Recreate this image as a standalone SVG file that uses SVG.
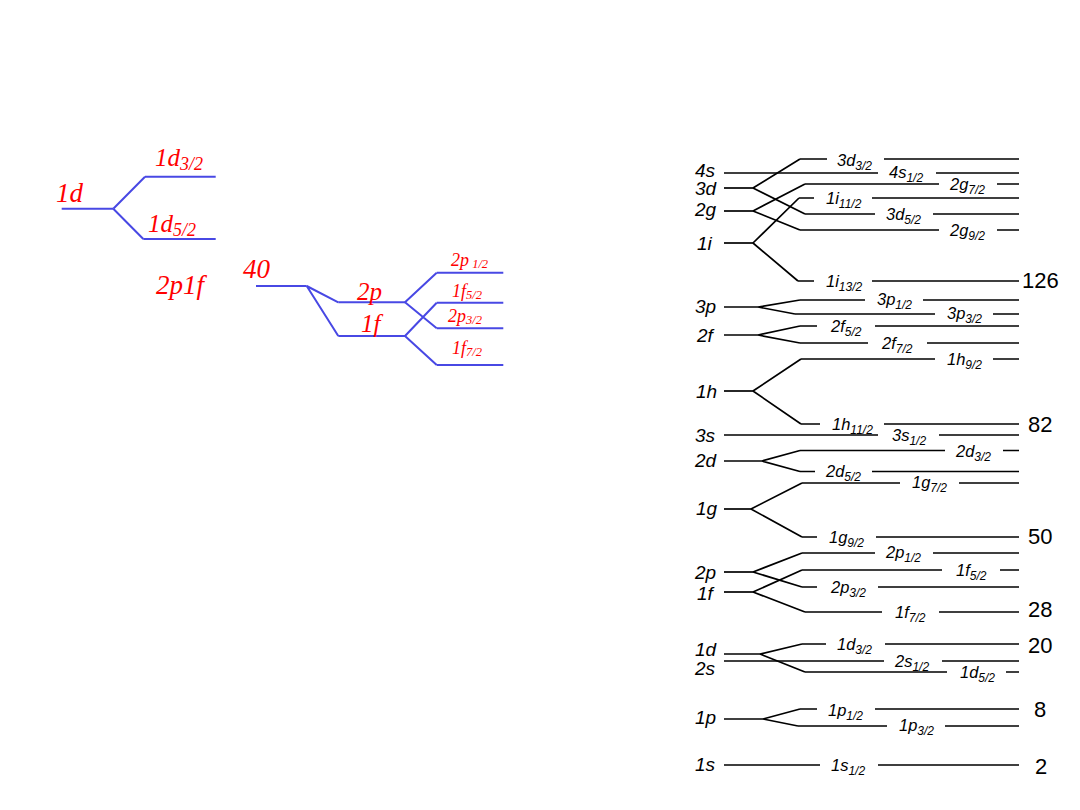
<svg xmlns="http://www.w3.org/2000/svg" width="1080" height="810" viewBox="0 0 1080 810">
<style>
.k{stroke:#000;stroke-width:1.7;fill:none}
.b{stroke:#4848e4;stroke-width:2;fill:none}
.sh{font-family:"Liberation Sans",Arial,sans-serif;font-style:italic;font-size:19px;fill:#000}
.lb{font-family:"Liberation Sans",Arial,sans-serif;font-style:italic;font-size:16.5px;fill:#000}
.sb{font-size:12px}
.n{font-family:"Liberation Sans",Arial,sans-serif;font-size:22px;fill:#000}
.r{font-family:"Liberation Serif","Times New Roman",serif;font-style:italic;fill:#ff0000}
.rb{font-size:27px}
.rm{font-size:25px}
.rs{font-size:18px}
.rsub{font-size:12.5px}
.rsub2{font-size:18px}
</style>
<rect width="1080" height="810" fill="#fff"/>

<!-- Left: red/blue example -->
<g id="red-1d">
<path class="b" d="M61.7 208.7H113.3"/>
<text class="r rb" x="56" y="202">1d</text>
</g>
<g id="red-1d32">
<path class="b" d="M145 176.7H215.7"/>
<text class="r rm" x="155" y="165.5">1d<tspan class="rsub2" dy="4">3/2</tspan></text>
</g>
<g id="red-1d52">
<path class="b" d="M143.3 239H215.7"/>
<text class="r rm" x="148" y="232">1d<tspan class="rsub2" dy="4">5/2</tspan></text>
</g>
<g id="red-2p1f">
<text class="r rb" x="156" y="294">2p1f</text>
</g>
<g id="red-40">
<path class="b" d="M256 286H306.7"/>
<text class="r rb" x="243" y="278">40</text>
</g>
<g id="red-2p">
<path class="b" d="M338.3 302.3H405"/>
<text class="r rm" x="357" y="300">2p</text>
</g>
<g id="red-1f">
<path class="b" d="M338.3 336H405"/>
<text class="r rm" x="361" y="332">1f</text>
</g>
<g id="red-2p12">
<path class="b" d="M436.7 272.7H503.3"/>
<text class="r rs" x="451" y="266">2p<tspan class="rsub" dy="2"> 1/2</tspan></text>
</g>
<g id="red-1f52">
<path class="b" d="M436.7 302.7H503.3"/>
<text class="r rs" x="452" y="297">1f<tspan class="rsub" dy="2">5/2</tspan></text>
</g>
<g id="red-2p32">
<path class="b" d="M436.7 328.3H503.3"/>
<text class="r rs" x="448" y="322">2p<tspan class="rsub" dy="2">3/2</tspan></text>
</g>
<g id="red-1f72">
<path class="b" d="M436.7 365H503.3"/>
<text class="r rs" x="452" y="354">1f<tspan class="rsub" dy="2">7/2</tspan></text>
</g>

<!-- Right: shell model levels -->
<g id="s-4s"><path class="k" d="M724 173H878M936 173H1019"/><text class="sh" x="695" y="177">4s</text><text class="lb" x="889" y="178">4s<tspan class="sb" dy="3.5">1/2</tspan></text></g>
<g id="s-3d"><path class="k" d="M724 188H753"/><text class="sh" x="695" y="195">3d</text></g>
<g id="s-2g"><path class="k" d="M724 211H753"/><text class="sh" x="695" y="216">2g</text></g>
<g id="s-1i"><path class="k" d="M724 243H753"/><text class="sh" x="697" y="250">1i</text></g>
<g id="s-3d32"><path class="k" d="M800 159H827M884 159H1019"/><text class="lb" x="837" y="166">3d<tspan class="sb" dy="3.5">3/2</tspan></text></g>
<g id="s-2g72"><path class="k" d="M805 184H939M997 184H1019"/><text class="lb" x="950" y="190">2g<tspan class="sb" dy="3.5">7/2</tspan></text></g>
<g id="s-1i112"><path class="k" d="M799 198H814M872 198H1019"/><text class="lb" x="826" y="204">1i<tspan class="sb" dy="3.5">11/2</tspan></text></g>
<g id="s-3d52"><path class="k" d="M805 214H875M933 214H1019"/><text class="lb" x="886" y="220">3d<tspan class="sb" dy="3.5">5/2</tspan></text></g>
<g id="s-2g92"><path class="k" d="M800 230H939M997 230H1019"/><text class="lb" x="950" y="236">2g<tspan class="sb" dy="3.5">9/2</tspan></text></g>
<g id="s-1i132"><path class="k" d="M798 281H814M872 281H1019"/><text class="lb" x="826" y="287">1i<tspan class="sb" dy="3.5">13/2</tspan></text><text class="n" x="1022" y="288">126</text></g>

<g id="s-3p"><path class="k" d="M724 307H758"/><text class="sh" x="695" y="313">3p</text></g>
<g id="s-3p12"><path class="k" d="M800 300H865M923 300H1019"/><text class="lb" x="877" y="305">3p<tspan class="sb" dy="3.5">1/2</tspan></text></g>
<g id="s-3p32"><path class="k" d="M795 314H935M993 314H1019"/><text class="lb" x="947" y="319">3p<tspan class="sb" dy="3.5">3/2</tspan></text></g>
<g id="s-2f"><path class="k" d="M724 335H758"/><text class="sh" x="697" y="342">2f</text></g>
<g id="s-2f52"><path class="k" d="M800 326H817M875 326H1019"/><text class="lb" x="831" y="332">2f<tspan class="sb" dy="3.5">5/2</tspan></text></g>
<g id="s-2f72"><path class="k" d="M800 343H868M927 343H1019"/><text class="lb" x="882" y="349">2f<tspan class="sb" dy="3.5">7/2</tspan></text></g>
<g id="s-1h"><path class="k" d="M724 391H753"/><text class="sh" x="696" y="398">1h</text></g>
<g id="s-1h92"><path class="k" d="M801 359H935M993 359H1019"/><text class="lb" x="947" y="365">1h<tspan class="sb" dy="3.5">9/2</tspan></text></g>
<g id="s-1h112"><path class="k" d="M801 424H820M884 424H1019"/><text class="lb" x="832" y="430">1h<tspan class="sb" dy="3.5">11/2</tspan></text><text class="n" x="1028" y="432">82</text></g>
<g id="s-3s"><path class="k" d="M724 435H878M939 435H1019"/><text class="sh" x="695" y="442">3s</text><text class="lb" x="892" y="441">3s<tspan class="sb" dy="3.5">1/2</tspan></text></g>

<g id="s-2d"><path class="k" d="M724 461H762"/><text class="sh" x="695" y="467">2d</text></g>
<g id="s-2d32"><path class="k" d="M800 450.5H945M1003 450.5H1019"/><text class="lb" x="956" y="457">2d<tspan class="sb" dy="3.5">3/2</tspan></text></g>
<g id="s-2d52"><path class="k" d="M800 471.5H815M872 471.5H1019"/><text class="lb" x="826" y="477">2d<tspan class="sb" dy="3.5">5/2</tspan></text></g>
<g id="s-1g"><path class="k" d="M724 509H751"/><text class="sh" x="696" y="515">1g</text></g>
<g id="s-1g72"><path class="k" d="M802 483H900M959 483H1019"/><text class="lb" x="912" y="488">1g<tspan class="sb" dy="3.5">7/2</tspan></text></g>
<g id="s-1g92"><path class="k" d="M802 537H817M876 537H1019"/><text class="lb" x="829" y="543">1g<tspan class="sb" dy="3.5">9/2</tspan></text><text class="n" x="1028" y="544">50</text></g>

<g id="s-2p"><path class="k" d="M724 572H753"/><text class="sh" x="695" y="579">2p</text></g>
<g id="s-2p12"><path class="k" d="M802 553H875M933 553H1019"/><text class="lb" x="886" y="558">2p<tspan class="sb" dy="3.5">1/2</tspan></text></g>
<g id="s-2p32"><path class="k" d="M802 587H817M878 587H1019"/><text class="lb" x="831" y="593">2p<tspan class="sb" dy="3.5">3/2</tspan></text></g>
<g id="s-1f"><path class="k" d="M724 592H753"/><text class="sh" x="697" y="600">1f</text></g>
<g id="s-1f52"><path class="k" d="M802 570H942M1000 570H1019"/><text class="lb" x="956" y="576">1f<tspan class="sb" dy="3.5">5/2</tspan></text></g>
<g id="s-1f72"><path class="k" d="M805 612H882M939 612H1019"/><text class="lb" x="895" y="618">1f<tspan class="sb" dy="3.5">7/2</tspan></text><text class="n" x="1028" y="617">28</text></g>

<g id="s-1d"><path class="k" d="M724 654H760"/><text class="sh" x="695" y="656">1d</text></g>
<g id="s-2s"><path class="k" d="M724 661H884M942 661H1019"/><text class="sh" x="695" y="675">2s</text><text class="lb" x="895" y="667">2s<tspan class="sb" dy="3.5">1/2</tspan></text></g>
<g id="s-1d32"><path class="k" d="M802 644H826M885 644H1019"/><text class="lb" x="837" y="650">1d<tspan class="sb" dy="3.5">3/2</tspan></text><text class="n" x="1028" y="653">20</text></g>
<g id="s-1d52"><path class="k" d="M805 672H947M1006 672H1019"/><text class="lb" x="960" y="678">1d<tspan class="sb" dy="3.5">5/2</tspan></text></g>

<g id="s-1p"><path class="k" d="M724 719H763"/><text class="sh" x="695" y="724">1p</text></g>
<g id="s-1p12"><path class="k" d="M800 709H817M875 709H1019"/><text class="lb" x="828" y="716">1p<tspan class="sb" dy="3.5">1/2</tspan></text><text class="n" x="1034" y="717">8</text></g>
<g id="s-1p32"><path class="k" d="M798 726H887M945 726H1019"/><text class="lb" x="899" y="731">1p<tspan class="sb" dy="3.5">3/2</tspan></text></g>

<g id="s-1s"><path class="k" d="M724 765H820M878 765H1019"/><text class="sh" x="695" y="771">1s</text><text class="lb" x="831" y="771">1s<tspan class="sb" dy="3.5">1/2</tspan></text><text class="n" x="1035" y="774">2</text></g>

<!-- Connectors (splitting branches) -->
<g id="connectors">
<path class="b" d="M113.3 208.7L145 176.7M113.3 208.7L143.3 239"/>
<path class="b" d="M306.7 286L338.3 302.3M306.7 286L338.3 336"/>
<path class="b" d="M405 302.3L436.7 272.7M405 302.3L436.7 328.3M405 336L436.7 302.7M405 336L436.7 365"/>
<path class="k" d="M753 188L800 159M753 188L805 214"/>
<path class="k" d="M753 211L805 184M753 211L800 230"/>
<path class="k" d="M753 243L799 198M753 243L798 281"/>
<path class="k" d="M758 307L800 300M758 307L795 314"/>
<path class="k" d="M758 335L800 326M758 335L800 343"/>
<path class="k" d="M753 391L801 359M753 391L801 424"/>
<path class="k" d="M762 461L800 450.5M762 461L800 471.5"/>
<path class="k" d="M751 509L802 483M751 509L802 537"/>
<path class="k" d="M753 572L802 553M753 572L802 587"/>
<path class="k" d="M753 592L802 570M753 592L805 612"/>
<path class="k" d="M760 654L802 644M760 654L805 672"/>
<path class="k" d="M763 719L800 709M763 719L798 726"/>
</g>
</svg>
